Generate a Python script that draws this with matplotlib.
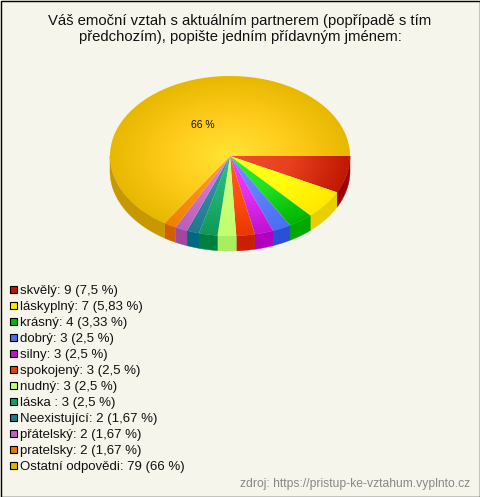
import matplotlib
matplotlib.use('Agg')
import matplotlib.pyplot as plt
import numpy as np
from matplotlib.colors import to_rgb
from matplotlib.patches import Polygon, Rectangle
from matplotlib.path import Path

plt.rcParams['font.family'] = ['Liberation Sans', 'DejaVu Sans']

title = 'Váš emoční vztah s aktuálním partnerem (popřípadě s tím\npředchozím), popište jedním přídavným jménem:'
labels = ['skvělý', 'láskyplný', 'krásný', 'dobrý', 'silny', 'spokojený', 'nudný',
          'láska ', 'Neexistující', 'přátelský', 'pratelsky', 'Ostatní odpovědi']
counts = [9, 7, 4, 3, 3, 3, 3, 3, 2, 2, 2, 79]
percents = ['7,5', '5,83', '3,33', '2,5', '2,5', '2,5', '2,5', '2,5', '1,67', '1,67', '1,67', '66']
source = 'zdroj: https://pristup-ke-vztahum.vyplnto.cz'

# colours: centre of slice, half way, rim of slice, side wall, legend box
inner = ['#f05030', '#ffff20', '#30f030', '#7090ff', '#f040ff', '#ff6020',
         '#d0ff80', '#30c080', '#3898b0', '#e080e0', '#ffa020', '#ffe535']
middle = ['#e84020', '#ffff10', '#20e020', '#6080ff', '#e030f0', '#ff5010',
          '#c8ff78', '#20b070', '#3088a0', '#d070d0', '#ff9010', '#ffcc1c']
outer = ['#c01800', '#ffe800', '#00b400', '#4870f0', '#c010d0', '#e83800',
         '#c0ff70', '#109858', '#207890', '#b860b8', '#f08000', '#e8b800']
side = ['#a00000', '#e8d000', '#00a800', '#2850d8', '#b000c0', '#c82000',
        '#a8ee60', '#008040', '#006880', '#a048a0', '#d06000', '#c89800']
legend_col = ['#c01800', '#ffe800', '#00b800', '#4870f0', '#c010d0', '#e84000',
              '#c0ff70', '#10a060', '#207890', '#c060c0', '#e87800', '#e8b000']

bg = '#f5f5ec'
cx, cy, rx, ry, depth = 230, 156, 120, 80, 15

fig = plt.figure(figsize=(4.8, 4.97), dpi=100, facecolor=bg)
ax = fig.add_axes([0, 0, 1, 1])
ax.set_xlim(0, 480)
ax.set_ylim(497, 0)
ax.axis('off')

# frame
ax.add_patch(Rectangle((0.5, 0.5), 479, 496, fc=bg, ec='black', lw=1))

ax.text(240, 29, title, ha='center', va='center', fontsize=10.72, linespacing=1.14, color='#111111')

# pie, clockwise from the east
edges = np.cumsum([0] + counts) / sum(counts) * 2 * np.pi

# side walls, only the front half shows
for i in range(len(counts)):
    a0, a1 = edges[i], min(edges[i + 1], np.pi)
    if a0 >= np.pi:
        continue
    t = np.linspace(a0, a1, 40)
    x = cx + rx * np.cos(t)
    y = cy + ry * np.sin(t)
    pts = np.r_[np.c_[x, y], np.c_[x[::-1], y[::-1] + depth]]
    ax.add_patch(Polygon(pts, fc=side[i], ec=side[i], lw=0.3))

# top face, radial gradient per slice
yy, xx = np.mgrid[cy - ry - 1:cy + ry + 1:0.5, cx - rx - 1:cx + rx + 1:0.5]
rad = np.clip(np.hypot((xx - cx) / rx, (yy - cy) / ry), 0, 1)
for i in range(len(counts)):
    t = np.linspace(edges[i], edges[i + 1], 120)
    pts = np.r_[[[cx, cy]], np.c_[cx + rx * np.cos(t), cy + ry * np.sin(t)], [[cx, cy]]]
    stops = np.array([to_rgb(inner[i]), to_rgb(middle[i]), to_rgb(outer[i])])
    grad = np.dstack([np.interp(rad, [0, 0.5, 1], stops[:, c]) for c in range(3)])
    im = ax.imshow(grad, extent=(cx - rx - 1, cx + rx + 1, cy + ry + 1, cy - ry - 1),
                   interpolation='bilinear', aspect='auto', zorder=2)
    im.set_clip_path(Path(pts), transform=ax.transData)
ax.set_xlim(0, 480)
ax.set_ylim(497, 0)

ax.text(203, 125, f'{percents[-1]} %', ha='center', va='center', fontsize=7.5, color='#111111', zorder=3)

# legend
for i, lab in enumerate(labels):
    y = 289 + i * 16
    ax.add_patch(Rectangle((9.5, y - 3.5), 7.5, 7, fc=legend_col[i], ec='black', lw=0.8, zorder=3))
    ax.text(20, y + 1.6, f'{lab}: {counts[i]} ({percents[i]} %)', ha='left', va='center',
            fontsize=9.55, color='#111111', zorder=3)

ax.text(470, 484.5, source, ha='right', va='center', fontsize=8.7, color='#888888', zorder=3)

fig.savefig('out.png', dpi=100, facecolor=bg)
